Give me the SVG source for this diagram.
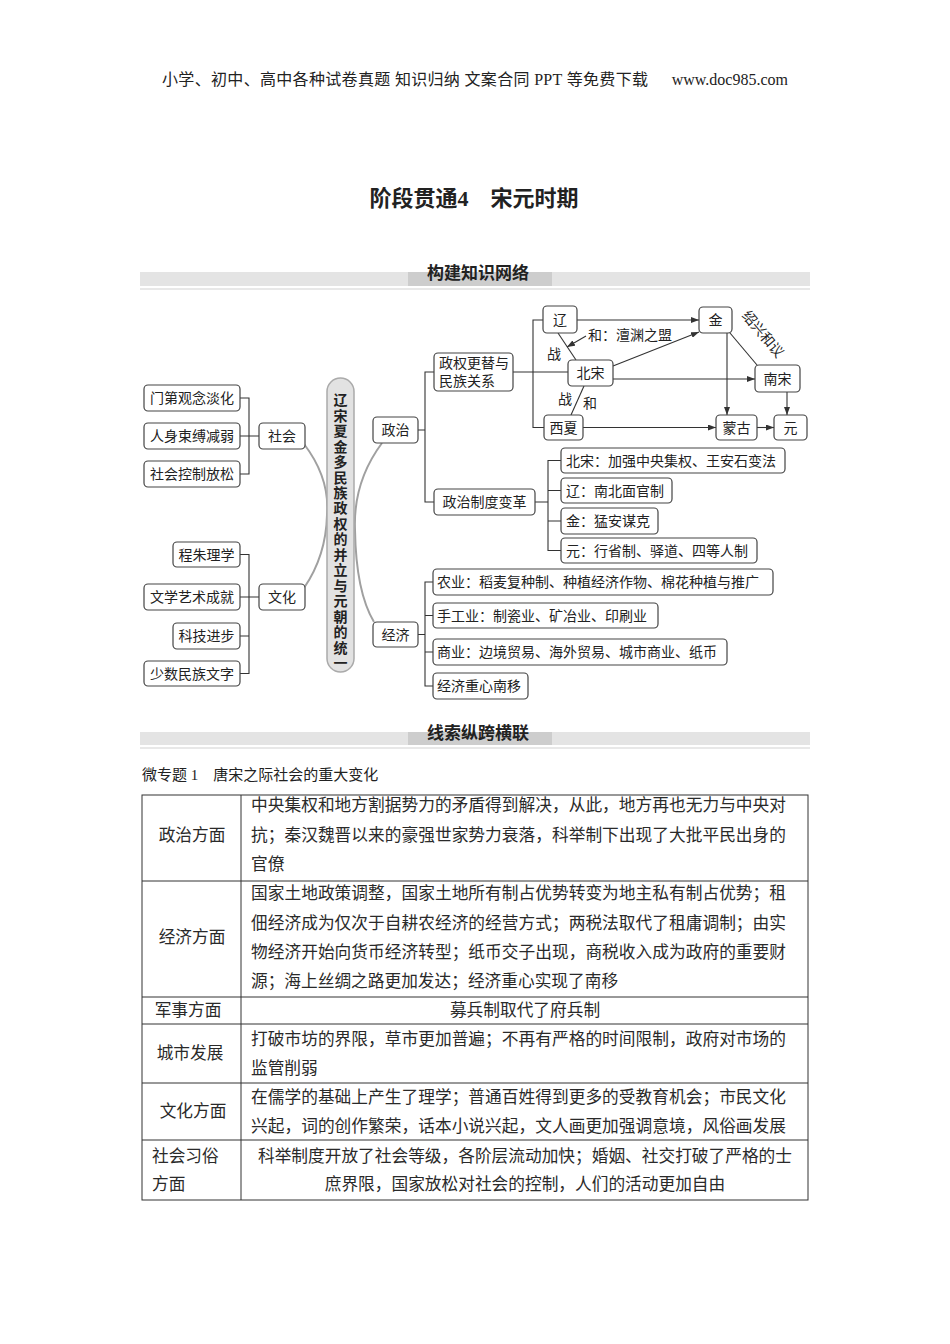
<svg xmlns="http://www.w3.org/2000/svg" width="950" height="1344" viewBox="0 0 950 1344">
<defs>
<marker id="arr" markerWidth="8" markerHeight="6" refX="8" refY="3" orient="auto" markerUnits="userSpaceOnUse">
<path d="M0,0 L8,3 L0,6 z" fill="#333"/>
</marker>
<style>
text{font-family:'Liberation Serif','Noto Sans CJK SC',serif;fill:#222;}
.hd{font-size:16px;}
.ttl{font-size:22px;font-weight:bold;text-anchor:middle;}
.band{fill:#e4e4e4;}
.tab{fill:#cdcdcd;}
.bt{font-size:17px;font-weight:bold;text-anchor:middle;font-family:'Noto Sans CJK SC',sans-serif;}
.box{fill:#fff;stroke:#444;stroke-width:1.2;}
.bx{font-size:14px;text-anchor:middle;}
.bl{font-size:14px;}
.ln{stroke:#333;stroke-width:1.1;fill:none;}
.cv{stroke:#a0a0a0;stroke-width:2;fill:none;}
.pill{fill:#e2e2e2;stroke:#aaa;stroke-width:1.5;}
.pt{font-size:14px;font-weight:bold;font-family:'Noto Sans CJK SC',sans-serif;writing-mode:vertical-rl;letter-spacing:1.45px;}
.tb{stroke:#333;stroke-width:1;fill:none;}
.tc{font-size:16.7px;fill:#2a2a2a;}
.tm{font-size:16.7px;text-anchor:middle;fill:#2a2a2a;}
</style>
</defs>
<rect width="950" height="1344" fill="#fff"/>

<!-- header -->
<text class="hd" x="162" y="85" textLength="486" lengthAdjust="spacing">小学、初中、高中各种试卷真题 知识归纳 文案合同 PPT 等免费下载</text>
<text class="hd" x="788" y="85" text-anchor="end">www.doc985.com</text>

<text class="ttl" x="474" y="206">阶段贯通4　宋元时期</text>

<!-- band 1 -->
<rect class="band" x="140" y="272" width="670" height="14"/>
<rect class="tab" x="408" y="272" width="144" height="14"/>
<rect x="140" y="288" width="670" height="2" fill="#e8e8e8"/>
<text class="bt" x="478" y="279">构建知识网络</text>

<!-- connectors -->
<g id="connectors">
<path class="cv" d="M304,444 Q330,478 327,515 Q326,556 304,588"/>
<path class="cv" d="M382,443 Q353,482 355,530 Q356,592 374,622"/>
<path class="ln" d="M240,398 H249 V474 H240 M240,436 H259"/>
<path class="ln" d="M240,554.5 H249 V673.5 H240 M240,636 H249 M240,597 H259"/>
<path class="ln" d="M418,430 H425 M434,372 H425 V502 H434"/>
<path class="ln" d="M535,502 H548 M561,460.5 H548 V550.5 H561 M548,490.5 H561 M548,521 H561"/>
<path class="ln" d="M418,634.5 H425 M433,582 H425 V686 H433 M425,615.5 H433 M425,652 H433"/>
<path class="ln" d="M513,372 H568 M543,320 H533 V427.5 H544"/>
<path class="ln" d="M577,320 H699" marker-end="url(#arr)"/>
<path class="ln" d="M613,366 L699,332" marker-end="url(#arr)"/>
<path class="ln" d="M613,379 H755" marker-end="url(#arr)"/>
<path class="ln" d="M727,333 V415" marker-end="url(#arr)"/>
<path class="ln" d="M583,427.5 H716" marker-end="url(#arr)"/>
<path class="ln" d="M757,427.5 H774" marker-end="url(#arr)"/>
<path class="ln" d="M787,392 V415" marker-end="url(#arr)"/>
<path class="ln" d="M586,336 L567,347" marker-end="url(#arr)"/>
<path class="ln" d="M558,333 L576,360"/>
<path class="ln" d="M584,386 L571,415"/>
<path class="ln" d="M730,333 L757,365"/>
<text class="bl" x="588" y="340">和：澶渊之盟</text>
<text class="bx" x="554" y="359">战</text>
<text class="bx" x="565" y="404">战</text>
<text class="bx" x="590" y="408">和</text>
<text class="bx" transform="translate(763,334) rotate(50)" y="5">绍兴和议</text>
</g>

<!-- central -->
<g id="center">
<rect class="pill" x="327" y="378" width="27" height="294" rx="13.5"/>
<text class="pt" x="340.5" y="393">辽宋夏金多民族政权的并立与元朝的统一</text>
</g>

<!-- left side -->
<g id="n-mendi"><rect class="box" x="144" y="385" width="96" height="26" rx="4"/><text class="bx" x="192" y="403">门第观念淡化</text></g>
<g id="n-renshen"><rect class="box" x="144" y="423" width="96" height="26" rx="4"/><text class="bx" x="192" y="441">人身束缚减弱</text></g>
<g id="n-shehuikz"><rect class="box" x="144" y="461" width="96" height="26" rx="4"/><text class="bx" x="192" y="479">社会控制放松</text></g>
<g id="n-shehui"><rect class="box" x="259" y="423" width="46" height="26" rx="4"/><text class="bx" x="282" y="441">社会</text></g>
<g id="n-chengzhu"><rect class="box" x="173" y="542" width="67" height="25" rx="4"/><text class="bx" x="206.5" y="559.5">程朱理学</text></g>
<g id="n-wenxue"><rect class="box" x="144" y="584" width="96" height="26" rx="4"/><text class="bx" x="192" y="602">文学艺术成就</text></g>
<g id="n-keji"><rect class="box" x="173" y="623" width="67" height="26" rx="4"/><text class="bx" x="206.5" y="641">科技进步</text></g>
<g id="n-shaoshu"><rect class="box" x="144" y="661" width="96" height="25" rx="4"/><text class="bx" x="192" y="678.5">少数民族文字</text></g>
<g id="n-wenhua"><rect class="box" x="259" y="584" width="46" height="26" rx="4"/><text class="bx" x="282" y="602">文化</text></g>

<!-- right side -->
<g id="n-zhengzhi"><rect class="box" x="373" y="417" width="45" height="26" rx="4"/><text class="bx" x="395.5" y="435">政治</text></g>
<g id="n-jingji"><rect class="box" x="373" y="622" width="45" height="25" rx="4"/><text class="bx" x="395.5" y="639.5">经济</text></g>
<g id="n-zhengquan"><rect class="box" x="434" y="353" width="79" height="38" rx="4"/><text class="bl" x="439" y="368">政权更替与</text><text class="bl" x="439" y="386">民族关系</text></g>
<g id="n-zhidu"><rect class="box" x="434" y="489" width="101" height="26" rx="4"/><text class="bx" x="484.5" y="507">政治制度变革</text></g>

<g id="n-liao"><rect class="box" x="543" y="306" width="34" height="27" rx="4"/><text class="bx" x="560" y="324.5">辽</text></g>
<g id="n-jin"><rect class="box" x="699" y="307" width="33" height="26" rx="4"/><text class="bx" x="715.5" y="325">金</text></g>
<g id="n-beisong"><rect class="box" x="568" y="360" width="45" height="26" rx="4"/><text class="bx" x="590.5" y="378">北宋</text></g>
<g id="n-nansong"><rect class="box" x="755" y="365" width="45" height="27" rx="4"/><text class="bx" x="777.5" y="383.5">南宋</text></g>
<g id="n-xixia"><rect class="box" x="544" y="415" width="39" height="25" rx="4"/><text class="bx" x="563.5" y="432.5">西夏</text></g>
<g id="n-menggu"><rect class="box" x="716" y="415" width="41" height="25" rx="4"/><text class="bx" x="736.5" y="432.5">蒙古</text></g>
<g id="n-yuan"><rect class="box" x="774" y="415" width="33" height="25" rx="4"/><text class="bx" x="790.5" y="432.5">元</text></g>

<g id="n-bs2"><rect class="box" x="561" y="448" width="224" height="25" rx="4"/><text class="bl" x="566" y="465.5">北宋：加强中央集权、王安石变法</text></g>
<g id="n-liao2"><rect class="box" x="561" y="478" width="111" height="25" rx="4"/><text class="bl" x="566" y="495.5">辽：南北面官制</text></g>
<g id="n-jin2"><rect class="box" x="561" y="508" width="97" height="26" rx="4"/><text class="bl" x="566" y="526">金：猛安谋克</text></g>
<g id="n-yuan2"><rect class="box" x="561" y="538" width="196" height="25" rx="4"/><text class="bl" x="566" y="555.5">元：行省制、驿道、四等人制</text></g>

<g id="n-nongye"><rect class="box" x="433" y="569" width="340" height="26" rx="4"/><text class="bl" x="437" y="587">农业：稻麦复种制、种植经济作物、棉花种植与推广</text></g>
<g id="n-shougong"><rect class="box" x="433" y="603" width="225" height="25" rx="4"/><text class="bl" x="437" y="620.5">手工业：制瓷业、矿冶业、印刷业</text></g>
<g id="n-shangye"><rect class="box" x="433" y="639" width="294" height="26" rx="4"/><text class="bl" x="437" y="657">商业：边境贸易、海外贸易、城市商业、纸币</text></g>
<g id="n-zhongxin"><rect class="box" x="433" y="673" width="95" height="26" rx="4"/><text class="bl" x="437" y="691">经济重心南移</text></g>

<!-- band 2 -->
<rect class="band" x="140" y="732" width="670" height="13"/>
<rect class="tab" x="408" y="732" width="144" height="13"/>
<rect x="140" y="747" width="670" height="2" fill="#e8e8e8"/>
<text class="bt" x="478" y="739">线索纵跨横联</text>

<text x="142" y="780" style="font-size:15px">微专题 1　唐宋之际社会的重大变化</text>

<!-- table -->
<g id="table">
<rect class="tb" x="142" y="795" width="666" height="405"/>
<path class="tb" d="M241,795 V1200 M142,881 H808 M142,997 H808 M142,1024 H808 M142,1083 H808 M142,1140 H808"/>
<text class="tm" x="192" y="841">政治方面</text>
<text class="tc" x="251" y="811" textLength="535" lengthAdjust="spacing">中央集权和地方割据势力的矛盾得到解决，从此，地方再也无力与中央对</text>
<text class="tc" x="251" y="841" textLength="535" lengthAdjust="spacing">抗；秦汉魏晋以来的豪强世家势力衰落，科举制下出现了大批平民出身的</text>
<text class="tc" x="251" y="870">官僚</text>
<text class="tm" x="192" y="943">经济方面</text>
<text class="tc" x="251" y="899" textLength="535" lengthAdjust="spacing">国家土地政策调整，国家土地所有制占优势转变为地主私有制占优势；租</text>
<text class="tc" x="251" y="929" textLength="535" lengthAdjust="spacing">佃经济成为仅次于自耕农经济的经营方式；两税法取代了租庸调制；由实</text>
<text class="tc" x="251" y="958" textLength="535" lengthAdjust="spacing">物经济开始向货币经济转型；纸币交子出现，商税收入成为政府的重要财</text>
<text class="tc" x="251" y="987">源；海上丝绸之路更加发达；经济重心实现了南移</text>
<text class="tm" x="188" y="1016">军事方面</text>
<text class="tm" x="525" y="1016">募兵制取代了府兵制</text>
<text class="tm" x="190" y="1059">城市发展</text>
<text class="tc" x="251" y="1045" textLength="535" lengthAdjust="spacing">打破市坊的界限，草市更加普遍；不再有严格的时间限制，政府对市场的</text>
<text class="tc" x="251" y="1074">监管削弱</text>
<text class="tm" x="193" y="1117">文化方面</text>
<text class="tc" x="251" y="1103" textLength="535" lengthAdjust="spacing">在儒学的基础上产生了理学；普通百姓得到更多的受教育机会；市民文化</text>
<text class="tc" x="251" y="1132" textLength="535" lengthAdjust="spacing">兴起，词的创作繁荣，话本小说兴起，文人画更加强调意境，风俗画发展</text>
<text class="tc" x="152" y="1162">社会习俗</text>
<text class="tc" x="152" y="1190">方面</text>
<text class="tm" x="525" y="1162">科举制度开放了社会等级，各阶层流动加快；婚姻、社交打破了严格的士</text>
<text class="tm" x="525" y="1190">庶界限，国家放松对社会的控制，人们的活动更加自由</text>
</g>
</svg>
